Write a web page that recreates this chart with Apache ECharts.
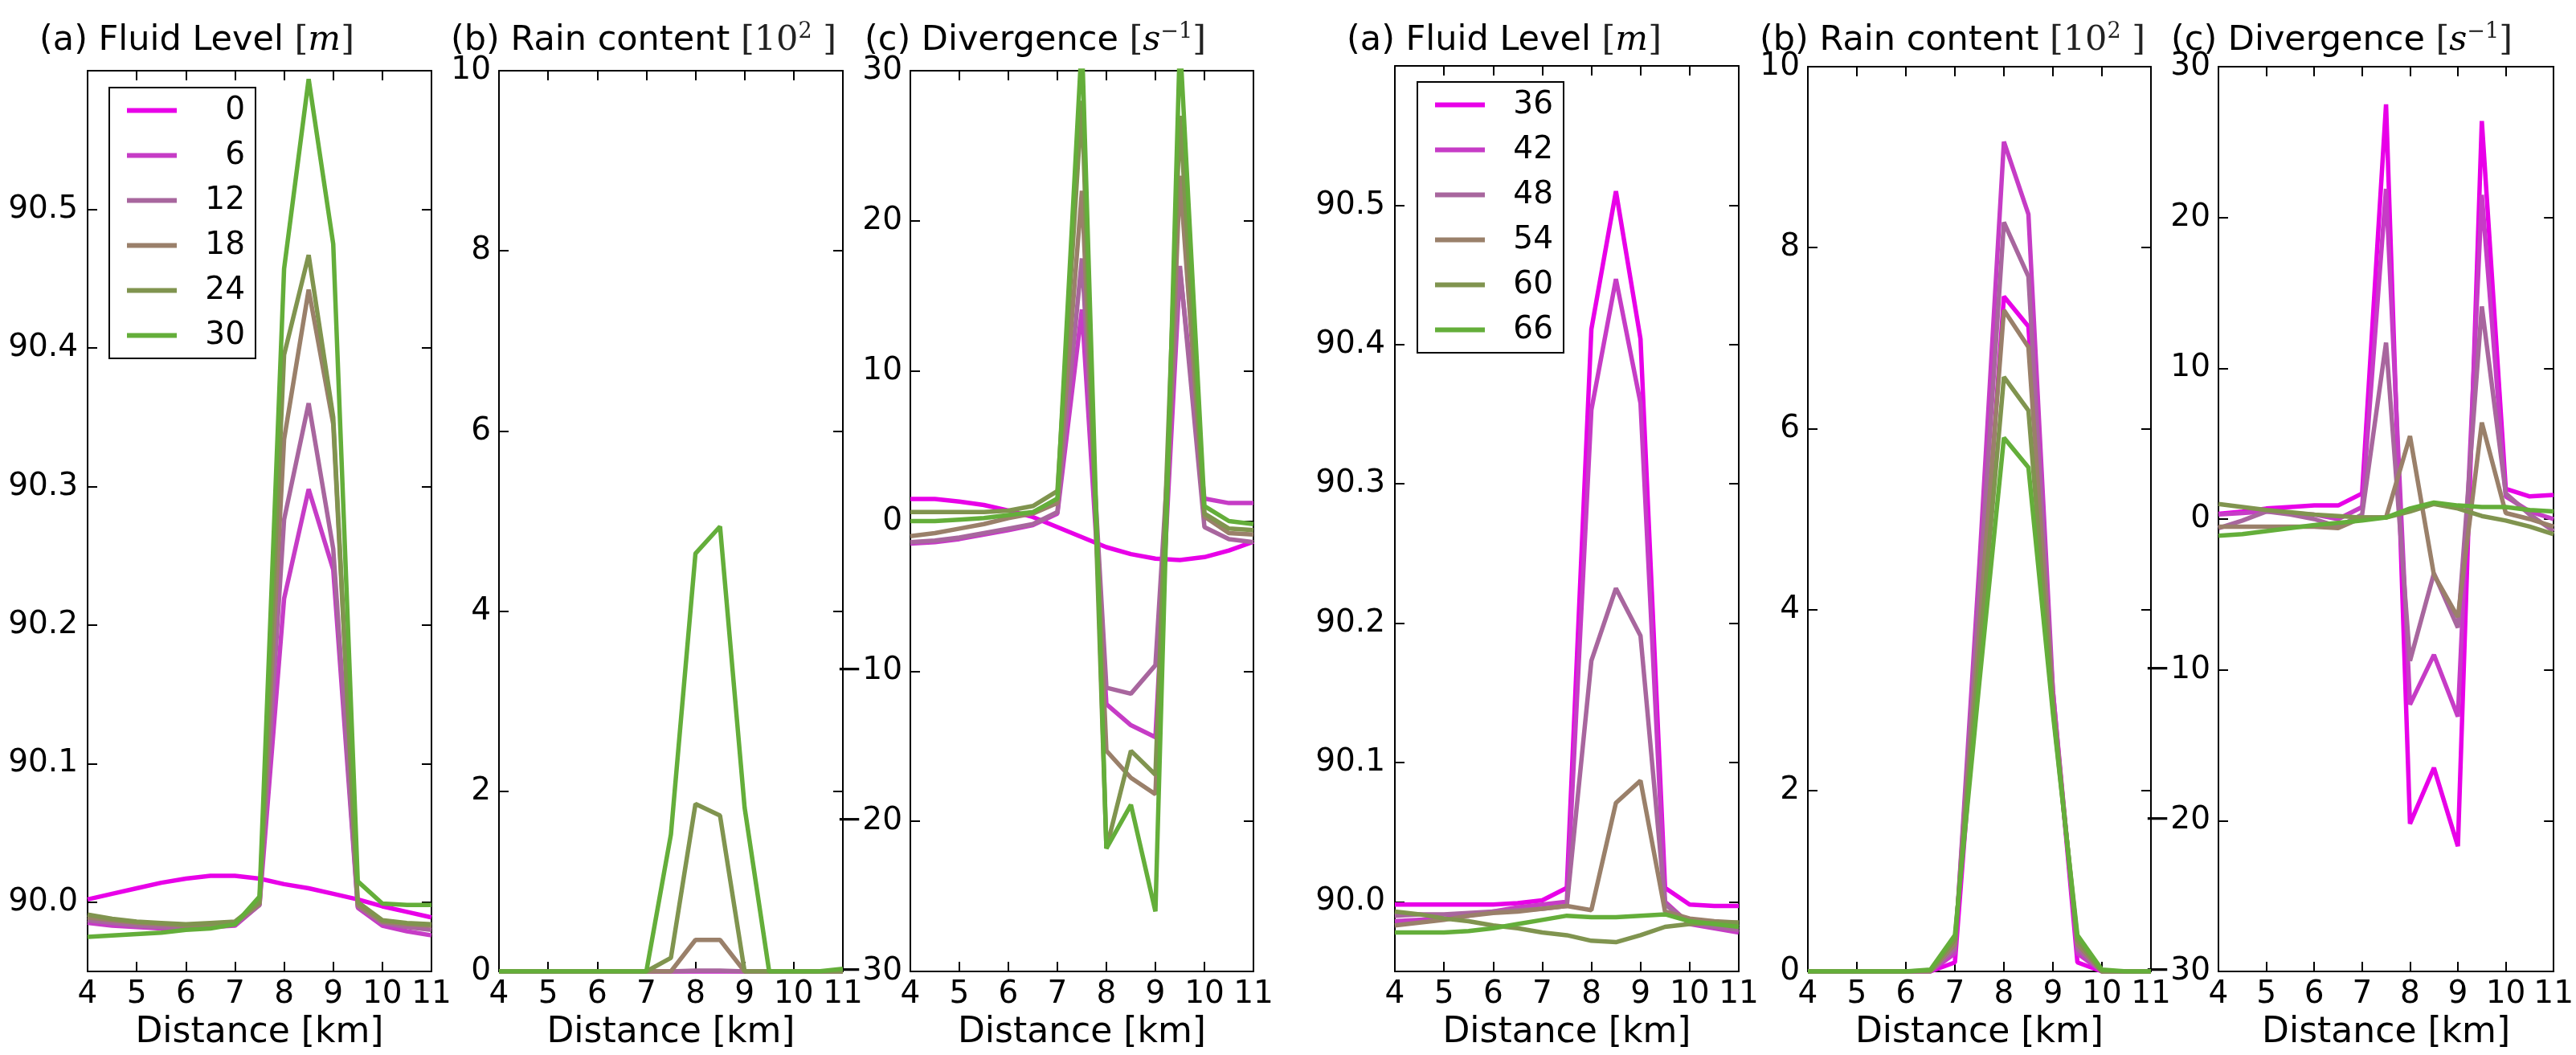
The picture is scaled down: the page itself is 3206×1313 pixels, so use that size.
<!DOCTYPE html>
<html>
<head>
<meta charset="utf-8">
<script src="https://cdn.jsdelivr.net/npm/echarts@6/dist/echarts.min.js"></script>
<style>
html,body{margin:0;padding:0;background:#fff;}
#c{width:3206px;height:1313px;}
</style>
</head>
<body>
<div id="c"></div>
<script>
// ---------------- DATA ----------------
const distance = [4,4.5,5,5.5,6,6.5,7,7.5,8,8.5,9,9.5,10,10.5,11];

const namesLeft = ['0','6','12','18','24','30'];
const namesRight = ['36','42','48','54','60','66'];

// Left block (times 0..30)
const fluid0  = [90.002,90.006,90.010,90.014,90.017,90.019,90.019,90.017,90.013,90.010,90.006,90.002,89.997,89.993,89.989];
const fluid6  = [89.985,89.983,89.982,89.981,89.981,89.982,89.983,89.998,90.219,90.298,90.240,89.996,89.983,89.979,89.976];
const fluid12 = [89.987,89.985,89.983,89.982,89.982,89.983,89.984,89.998,90.276,90.360,90.255,89.997,89.985,89.982,89.980];
const fluid18 = [89.989,89.987,89.985,89.984,89.983,89.984,89.985,89.999,90.334,90.442,90.345,89.998,89.986,89.984,89.983];
const fluid24 = [89.991,89.988,89.986,89.985,89.984,89.985,89.986,90.000,90.395,90.467,90.350,90.000,89.987,89.985,89.984];
const fluid30 = [89.975,89.976,89.977,89.978,89.980,89.981,89.984,90.004,90.457,90.594,90.475,90.015,89.999,89.998,89.998];

const rain0  = [0,0,0,0,0,0,0,0,0,0,0,0,0,0,0];
const rain6  = [0,0,0,0,0,0,0,0,0,0,0,0,0,0,0];
const rain12 = [0,0,0,0,0,0,0,0,0.01,0.01,0,0,0,0,0];
const rain18 = [0,0,0,0,0,0,0,0,0.35,0.35,0,0,0,0,0];
const rain24 = [0,0,0,0,0,0,0,0.15,1.86,1.73,0,0,0,0,0];
const rain30 = [0,0,0,0,0,0,0,1.52,4.64,4.94,1.82,0,0,0,0.03];

const div0  = [1.47,1.47,1.3,1.07,0.7,0.27,-0.4,-1.07,-1.74,-2.2,-2.5,-2.6,-2.4,-1.96,-1.38];
const div6  = [-1.5,-1.4,-1.2,-0.9,-0.6,-0.27,0.5,14.1,-12.2,-13.6,-14.4,16.7,1.5,1.2,1.2];
const div12 = [-1.4,-1.3,-1.1,-0.8,-0.5,-0.2,0.6,17.5,-11.1,-11.5,-9.6,17.0,-0.4,-1.2,-1.4];
const div18 = [-1.0,-0.8,-0.5,-0.2,0.2,0.5,1.2,22.0,-15.3,-17.1,-18.2,23.0,0.3,-0.8,-0.9];
const div24 = [0.6,0.6,0.6,0.6,0.7,1.0,2.0,28.0,-21.8,-15.3,-16.9,27.0,0.5,-0.5,-0.6];
const div30 = [0.0,0.0,0.1,0.2,0.4,0.6,1.5,32.0,-21.8,-18.9,-26.0,32.0,1.0,0.0,-0.2];

// Right block (times 36..66)
const fluid36 = [89.998,89.998,89.998,89.998,89.998,89.999,90.001,90.010,90.411,90.510,90.404,90.010,89.998,89.997,89.997];
const fluid42 = [89.986,89.987,89.988,89.990,89.993,89.996,89.998,90.000,90.353,90.447,90.358,90.000,89.984,89.981,89.978];
const fluid48 = [89.990,89.991,89.991,89.992,89.993,89.994,89.995,89.997,90.173,90.225,90.191,89.998,89.985,89.982,89.980];
const fluid54 = [89.983,89.985,89.987,89.990,89.992,89.993,89.995,89.997,89.994,90.071,90.087,89.993,89.988,89.986,89.985];
const fluid60 = [89.993,89.991,89.988,89.986,89.983,89.981,89.978,89.976,89.972,89.971,89.976,89.982,89.984,89.985,89.985];
const fluid66 = [89.978,89.978,89.978,89.979,89.981,89.984,89.987,89.990,89.989,89.989,89.990,89.991,89.986,89.984,89.982];

const rain36 = [0,0,0,0,0,0,0.1,3.6,7.46,7.13,3.1,0.1,0,0,0];
const rain42 = [0,0,0,0,0,0,0.2,4.5,9.17,8.37,3.1,0.2,0,0,0];
const rain48 = [0,0,0,0,0,0,0.25,4.2,8.28,7.68,3.0,0.25,0,0,0];
const rain54 = [0,0,0,0,0,0,0.3,3.8,7.31,6.9,3.0,0.3,0,0,0];
const rain60 = [0,0,0,0,0,0.01,0.35,3.5,6.57,6.2,2.9,0.35,0,0,0];
const rain66 = [0,0,0,0,0,0.02,0.4,3.2,5.9,5.57,2.85,0.4,0.02,0,0];

const div36 = [0.35,0.5,0.7,0.8,0.9,0.9,1.7,27.5,-20.2,-16.5,-21.7,26.4,2.0,1.5,1.6];
const div42 = [0.3,0.4,0.5,0.4,0.3,0.0,0.8,21.9,-12.3,-9.0,-13.1,21.5,1.5,0.5,0.0];
const div48 = [-0.6,-0.1,0.5,0.3,0.0,-0.5,0.3,11.7,-9.4,-3.6,-7.2,14.1,1.7,0.3,-0.8];
const div54 = [-0.5,-0.5,-0.5,-0.5,-0.5,-0.6,0.1,0.1,5.5,-3.7,-6.5,6.4,0.4,0.0,-0.5];
const div60 = [1.0,0.8,0.6,0.45,0.3,0.2,0.1,0.1,0.5,1.0,0.7,0.2,-0.1,-0.5,-1.0];
const div66 = [-1.1,-1.0,-0.8,-0.6,-0.4,-0.25,-0.1,0.1,0.7,1.1,0.9,0.8,0.8,0.6,0.5];

const xTicks = [4,5,6,7,8,9,10,11];
const fluidTicks = [90.0,90.1,90.2,90.3,90.4,90.5];
const rainTicks = [0,2,4,6,8,10];
const divTicks = [-30,-20,-10,0,10,20,30];

// ---------------- STYLE / LAYOUT ----------------
const colors = ['#e800e8','#c63cc6','#a8669e','#9a806a','#80944f','#64ae3a'];
const FONT = 'DejaVu Sans';
const grids = [
  {left:109, top:88, width:428, height:1133},
  {left:621, top:88, width:428, height:1133},
  {left:1133, top:88, width:427, height:1133},
  {left:1736, top:82, width:428, height:1131},
  {left:2250, top:83, width:427, height:1129},
  {left:2761, top:83, width:429, height:1129}
];
const panelSeries = [
  [fluid0,fluid6,fluid12,fluid18,fluid24,fluid30],
  [rain0,rain6,rain12,rain18,rain24,rain30],
  [div0,div6,div12,div18,div24,div30],
  [fluid36,fluid42,fluid48,fluid54,fluid60,fluid66],
  [rain36,rain42,rain48,rain54,rain60,rain66],
  [div36,div42,div48,div54,div60,div66]
];
const panelNames = [namesLeft,namesLeft,namesLeft,namesRight,namesRight,namesRight];
const yKinds = ['fluid','rain','div','fluid','rain','div'];

function minusFmt(v){ return v < 0 ? '\u2212' + Math.abs(v) : String(v); }

const tickStyle = {show:true, inside:true, length:12, lineStyle:{color:'#000', width:2}};
const lineAx = {show:true, onZero:false, lineStyle:{color:'#000', width:2}};
const labelBase = {color:'#000', fontFamily:FONT, fontSize:39};

const xAxes = [], yAxes = [], series = [];
grids.forEach((g, i) => {
  ['bottom','top'].forEach(pos => {
    xAxes.push({
      gridIndex:i, type:'value', min:4, max:11, interval:1, position:pos,
      axisLine:lineAx, axisTick:tickStyle, splitLine:{show:false},
      axisLabel: pos === 'bottom' ? Object.assign({show:true, margin:9, showMinLabel:true, showMaxLabel:true}, labelBase) : {show:false},
      name: pos === 'bottom' ? 'Distance [km]' : '',
      nameLocation:'middle', nameGap:55,
      nameTextStyle:{color:'#000', fontFamily:FONT, fontSize:44}
    });
  });
  const k = yKinds[i];
  ['left','right'].forEach(pos => {
    let ax = {gridIndex:i, type:'value', position:pos, axisLine:lineAx, splitLine:{show:false}, scale:false};
    if (k === 'fluid') {
      ax.min = 89.95; ax.max = 90.6;
      ax.axisTick = Object.assign({customValues: fluidTicks}, tickStyle);
      ax.axisLabel = pos === 'left' ? Object.assign({show:true, margin:12, customValues: fluidTicks, formatter: v => Number(v).toFixed(1)}, labelBase) : {show:false};
    } else if (k === 'rain') {
      ax.min = 0; ax.max = 10; ax.interval = 2;
      ax.axisTick = tickStyle;
      ax.axisLabel = pos === 'left' ? Object.assign({show:true, margin:10, showMinLabel:true, showMaxLabel:true}, labelBase) : {show:false};
    } else {
      ax.min = -30; ax.max = 30; ax.interval = 10;
      ax.axisTick = tickStyle;
      ax.axisLabel = pos === 'left' ? Object.assign({show:true, margin:10, showMinLabel:true, showMaxLabel:true, formatter: minusFmt}, labelBase) : {show:false};
    }
    yAxes.push(ax);
  });
  panelSeries[i].forEach((arr, j) => {
    series.push({
      type:'line', name: panelNames[i][j],
      xAxisIndex: i*2, yAxisIndex: i*2,
      data: distance.map((x, n) => [x, arr[n]]),
      symbol:'none', showSymbol:false, clip:true,
      lineStyle:{color: colors[j], width:5.5},
      itemStyle:{color: colors[j]},
      emphasis:{disabled:true},
      z: 2 + j
    });
  });
});

const titleTexts = [
  '(a) Fluid Level {br|[}{it|m}{br|]}',
  '(b) Rain content {br|[10}{sup|2}{br| ]}',
  '(c) Divergence {br|[}{it|s}{sup|\u22121}{br|]}',
  '(a) Fluid Level {br|[}{it|m}{br|]}',
  '(b) Rain content {br|[10}{sup|2}{br| ]}',
  '(c) Divergence {br|[}{it|s}{sup|\u22121}{br|]}'
];
const titleLeft = [49, 561, 1076, 1676, 2190, 2702];
const titleRich = {
  br:{fontFamily:'DejaVu Serif', fontSize:43, color:'#222', lineHeight:50},
  it:{fontFamily:'DejaVu Serif', fontStyle:'italic', fontSize:43, color:'#000', lineHeight:50},
  sup:{fontFamily:'DejaVu Serif', fontSize:27, color:'#222', verticalAlign:'top'}
};
const titles = titleTexts.map((t, i) => ({
  text: t, left: titleLeft[i], top: 26, padding: 0,
  textStyle:{fontFamily:FONT, fontSize:43, fontWeight:'normal', color:'#000', lineHeight:50, rich:titleRich}
}));

function legendAt(data, left, top){
  return {
    data: data, orient:'vertical', left:left, top:top,
    padding:[9,13,9,22], itemGap:17, itemWidth:62, itemHeight:6,
    icon:'rect',
    borderColor:'#000', borderWidth:2, backgroundColor:'#fff', borderRadius:0,
    selectedMode:false,
    formatter: n => '{r|' + n + '}',
    textStyle:{rich:{r:{width:80, align:'right', fontSize:39, fontFamily:FONT, color:'#000', lineHeight:40}}}
  };
}

const chart = echarts.init(document.getElementById('c'), null, {renderer:'canvas', width:3206, height:1313});
chart.setOption({
  animation:false,
  backgroundColor:'#fff',
  title: titles,
  grid: grids.map(g => Object.assign({containLabel:false}, g)),
  xAxis: xAxes,
  yAxis: yAxes,
  legend: [legendAt(namesLeft, 136, 109), legendAt(namesRight, 1764, 102)],
  series: series
});
</script>
</body>
</html>
